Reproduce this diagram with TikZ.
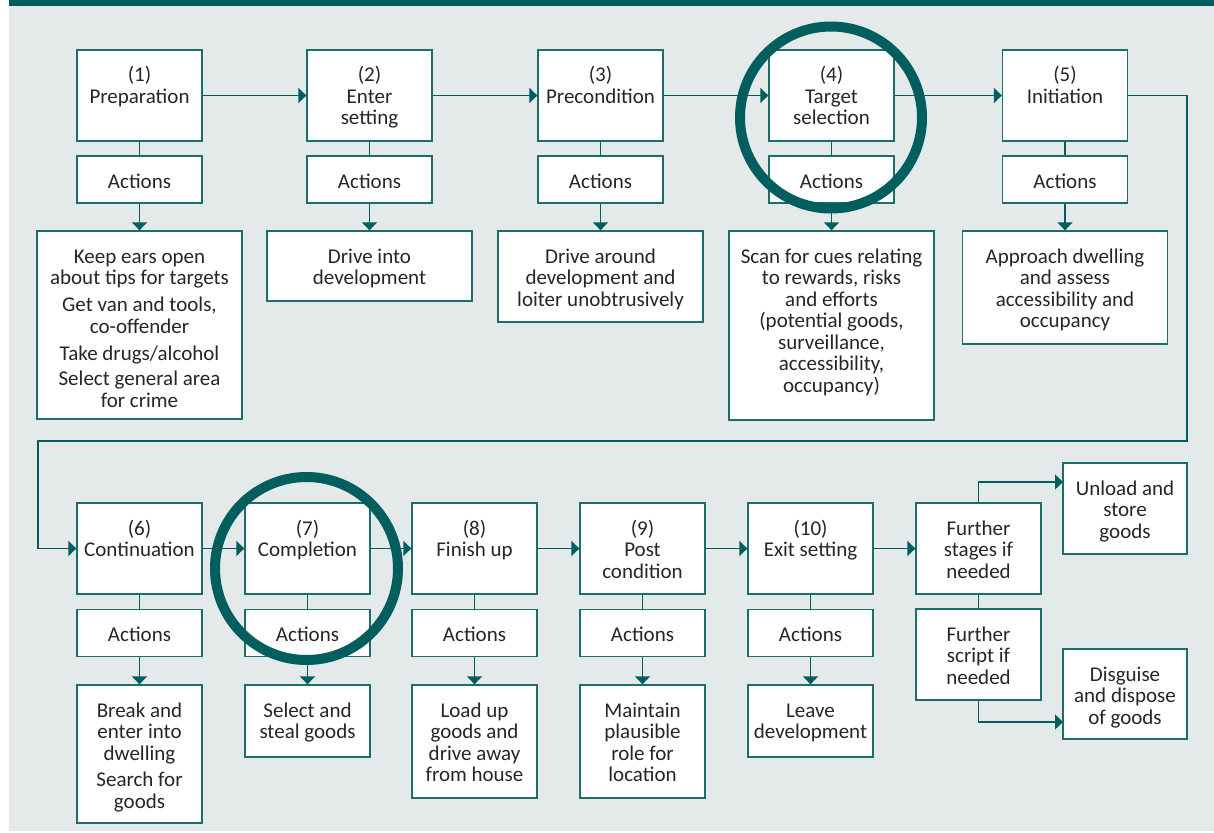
\documentclass[tikz,border=0pt]{standalone}
\usepackage{fontspec}
\setmainfont{Carlito}
\usepackage{xcolor}
\usetikzlibrary{arrows.meta}
\definecolor{darkteal}{RGB}{0,94,94}
\definecolor{boxline}{RGB}{28,110,106}
\definecolor{panelgrey}{RGB}{228,233,234}
\definecolor{inkgrey}{RGB}{38,38,38}
\newcommand{\celltext}[3]{\parbox[c][#2][t]{#1}{\centering\lineskiplimit=-20pt\rule{0pt}{32pt}#3}}
\newcommand{\stagetext}[1]{\celltext{125pt}{91pt}{#1}}
\newcommand{\acttext}{\celltext{125pt}{47pt}{Actions}}
\tikzset{
  box/.style={draw=boxline, line width=1.3pt, fill=white, text=inkgrey, inner sep=0pt,
    font={\fontsize{21}{21.5}\selectfont}},
  link/.style={draw=darkteal, line width=1.3pt},
  arr/.style={link, -{Triangle[length=8pt,width=15pt]}},
  ring/.style={draw=darkteal, line width=10pt},
}

\begin{document}
\begin{tikzpicture}[x=1pt,y=-1pt]
\useasboundingbox (0,0) rectangle (1214,832);
\fill [panelgrey] (9,6) rectangle (1214,831);
\fill [darkteal] (9,0) rectangle (1214,6);

\node [box] (s1) at (139.5,95.5) {\stagetext{(1)\\Preparation}};
\node [box] (s2) at (369.5,95.5) {\stagetext{(2)\\Enter\\setting}};
\node [box] (s3) at (600.5,95.5) {\stagetext{(3)\\Precondition}};
\node [box] (s4) at (831.5,95.5) {\stagetext{(4)\\Target\\selection}};
\node [box] (s5) at (1065,95.5) {\stagetext{(5)\\Initiation}};

\node [box] (a1) at (139.5,179.5) {\acttext};
\node [box] (a2) at (369.5,179.5) {\acttext};
\node [box] (a3) at (600.5,179.5) {\acttext};
\node [box] (a4) at (831.5,179.5) {\acttext};
\node [box] (a5) at (1065,179.5) {\acttext};

\node [box] (d1) at (139.5,325) {\celltext{205pt}{188pt}{Keep ears open\\about tips for targets\\[5.5pt]Get van and tools,\\co-offender\\[5.5pt]Take drugs/alcohol\\[4pt]Select general area\\for crime}};
\node [box] (d2) at (369.5,266) {\celltext{205pt}{70pt}{Drive into\\development}};
\node [box] (d3) at (600.5,276.5) {\celltext{205pt}{91pt}{Drive around\\development and\\loiter unobtrusively}};
\node [box] (d4) at (831.5,325.5) {\celltext{205pt}{189pt}{Scan for cues relating\\to rewards, risks\\and efforts\\(potential goods,\\surveillance,\\accessibility,\\occupancy)}};
\node [box] (d5) at (1065,287.5) {\celltext{205pt}{113pt}{Approach dwelling\\and assess\\accessibility and\\occupancy}};

\draw [arr] (s1) -- (s2);
\draw [arr] (s2) -- (s3);
\draw [arr] (s3) -- (s4);
\draw [arr] (s4) -- (s5);
\draw [link] (s1) -- (a1);
\draw [link] (s2) -- (a2);
\draw [link] (s3) -- (a3);
\draw [link] (s4) -- (a4);
\draw [link] (s5) -- (a5);
\draw [arr] (a1) -- (d1);
\draw [arr] (a2) -- (d2);
\draw [arr] (a3) -- (d3);
\draw [arr] (a4) -- (d4);
\draw [arr] (a5) -- (d5);

\node [box] (s6) at (139.5,548.5) {\stagetext{(6)\\Continuation}};
\node [box] (s7) at (307.5,548.5) {\stagetext{(7)\\Completion}};
\node [box] (s8) at (474.5,548.5) {\stagetext{(8)\\Finish up}};
\node [box] (s9) at (642.5,548.5) {\stagetext{(9)\\Post\\condition}};
\node [box] (s10) at (810.5,548.5) {\stagetext{(10)\\Exit setting}};
\node [box] (fstages) at (978.5,548.5) {\stagetext{Further\\stages if\\needed}};
\node [box] (fscript) at (978.5,654.5) {\stagetext{Further\\script if\\needed}};

\node [box] (a6) at (139.5,633) {\acttext};
\node [box] (a7) at (307.5,633) {\acttext};
\node [box] (a8) at (474.5,633) {\acttext};
\node [box] (a9) at (642.5,633) {\acttext};
\node [box] (a10) at (810.5,633) {\acttext};

\node [box] (d6) at (139.5,754) {\celltext{125pt}{138pt}{Break and\\enter into\\dwelling\\[5pt]Search for\\goods}};
\node [box] (d7) at (307.5,721) {\celltext{125pt}{72pt}{Select and\\steal goods}};
\node [box] (d8) at (474.5,741.5) {\celltext{125pt}{113pt}{Load up\\goods and\\drive away\\from house}};
\node [box] (d9) at (642.5,741.5) {\celltext{125pt}{113pt}{Maintain\\plausible\\role for\\location}};
\node [box] (d10) at (810.5,721) {\celltext{125pt}{72pt}{Leave\\development}};
\node [box] (unload) at (1125,508.5) {\celltext{124pt}{91pt}{Unload and\\store\\goods}};
\node [box] (dispose) at (1125,694) {\celltext{124pt}{90pt}{Disguise\\and dispose\\of goods}};

\coordinate (turnR) at (1187,441);
\coordinate (turnL) at (38,441);
\coordinate (unloadin) at (1063,482);
\coordinate (disposein) at (1063,722);

\draw [arr] (s5.east) -| (turnR) -- (turnL) |- (s6.west);
\draw [arr] (s6) -- (s7);
\draw [arr] (s7) -- (s8);
\draw [arr] (s8) -- (s9);
\draw [arr] (s9) -- (s10);
\draw [arr] (s10) -- (fstages);
\draw [link] (s6) -- (a6);
\draw [link] (s7) -- (a7);
\draw [link] (s8) -- (a8);
\draw [link] (s9) -- (a9);
\draw [link] (s10) -- (a10);
\draw [arr] (a6) -- (d6);
\draw [arr] (a7) -- (d7);
\draw [arr] (a8) -- (d8);
\draw [arr] (a9) -- (d9);
\draw [arr] (a10) -- (d10);
\draw [link] (fstages) -- (fscript);
\draw [arr] (fstages.north) |- (unloadin);
\draw [arr] (fscript.south) |- (disposein);

\draw [ring] (831,117.5) circle [radius=91];
\draw [ring] (306.5,568.5) circle [radius=91.5];
\end{tikzpicture}
\end{document}
